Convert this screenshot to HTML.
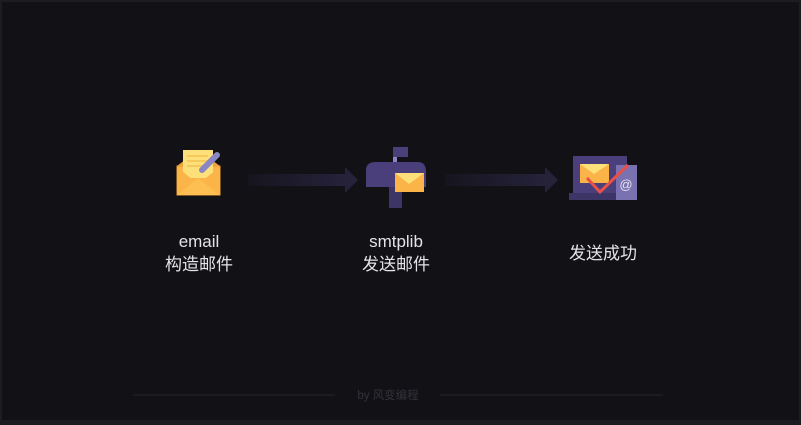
<!DOCTYPE html>
<html><head><meta charset="utf-8"><style>
html,body{margin:0;padding:0;}
body{width:801px;height:425px;background:#1d1d21;position:relative;overflow:hidden;font-family:"Liberation Sans","Noto Sans CJK SC",sans-serif;}
.bg{position:absolute;left:2px;top:2px;width:797px;height:418px;background:#121116;}
.t{position:absolute;color:#e4e4e8;font-size:17px;text-align:center;line-height:23px;width:140px;}
</style></head><body>
<div class="bg"></div>
<svg width="801" height="425" style="position:absolute;left:0;top:0">
<defs><linearGradient id="g" x1="0" x2="1"><stop offset="0" stop-color="#16151e"/><stop offset="1" stop-color="#25223a"/></linearGradient></defs>
<rect x="177" y="166" width="43" height="29" fill="#fbb447" stroke="#e69a30"/>
<polygon points="177,166 198,150 220,166" fill="#f0a03c"/>
<rect x="183" y="150" width="30" height="28" fill="#fde07a"/>
<line x1="187" y1="156" x2="208" y2="156" stroke="#f7c85a" stroke-width="2"/>
<line x1="187" y1="161" x2="208" y2="161" stroke="#f7c85a" stroke-width="2"/>
<line x1="187" y1="166" x2="205" y2="166" stroke="#f7c85a" stroke-width="2"/>
<polygon points="177,167 198,184 220,167 220,195 177,195" fill="#fbb447"/>
<polygon points="177,195 198,178 220,195" fill="#fdbe52"/>
<line x1="202" y1="170" x2="217" y2="155" stroke="#8a85c4" stroke-width="6" stroke-linecap="round"/>
<rect x="248" y="174" width="97" height="12" fill="url(#g)"/>
<polygon points="345,167 358,180 345,193" fill="#25223a"/>
<rect x="393" y="147" width="15" height="10" fill="#4a3f7a"/>
<rect x="393" y="157" width="4" height="14" fill="#8a85c4"/>
<path d="M366,187 L366,170 Q366,162 376,162 L418,162 Q426,162 426,172 L426,187 Z" fill="#4a3f7a"/>
<rect x="389" y="187" width="13" height="21" fill="#3d3566"/>
<rect x="395" y="173" width="29" height="19" fill="#fbb447"/>
<polygon points="395,173 409,184 424,173" fill="#fde07a"/>
<rect x="445" y="174" width="100" height="12" fill="url(#g)"/>
<polygon points="545,167 558,180 545,193" fill="#25223a"/>
<rect x="573" y="156" width="54" height="38" fill="#4a3f7a"/>
<rect x="569" y="193" width="56" height="7" fill="#3d3566"/>
<rect x="580" y="164" width="29" height="19" fill="#fbb447"/>
<polygon points="580,164 594,174 609,164" fill="#fde07a"/>
<rect x="616" y="165" width="21" height="35" fill="#7a72b0"/>
<text x="626" y="189" font-size="13" fill="#e4e4f0" text-anchor="middle" font-family="Liberation Sans">@</text>
<polyline points="587,178 600,192 628,165" fill="none" stroke="#e8504a" stroke-width="3"/>
<line x1="133" y1="395" x2="335" y2="395" stroke="#26252b"/>
<line x1="440" y1="395" x2="663" y2="395" stroke="#26252b"/>
<text x="388" y="399" font-size="11.5" fill="#34333a" text-anchor="middle" font-family="Liberation Sans, Noto Sans CJK SC, sans-serif">by 风变编程</text>
</svg>
<div class="t" style="left:129px;top:230px">email<br>构造邮件</div>
<div class="t" style="left:326px;top:230px">smtplib<br>发送邮件</div>
<div class="t" style="left:533px;top:242px">发送成功</div>
</body></html>
